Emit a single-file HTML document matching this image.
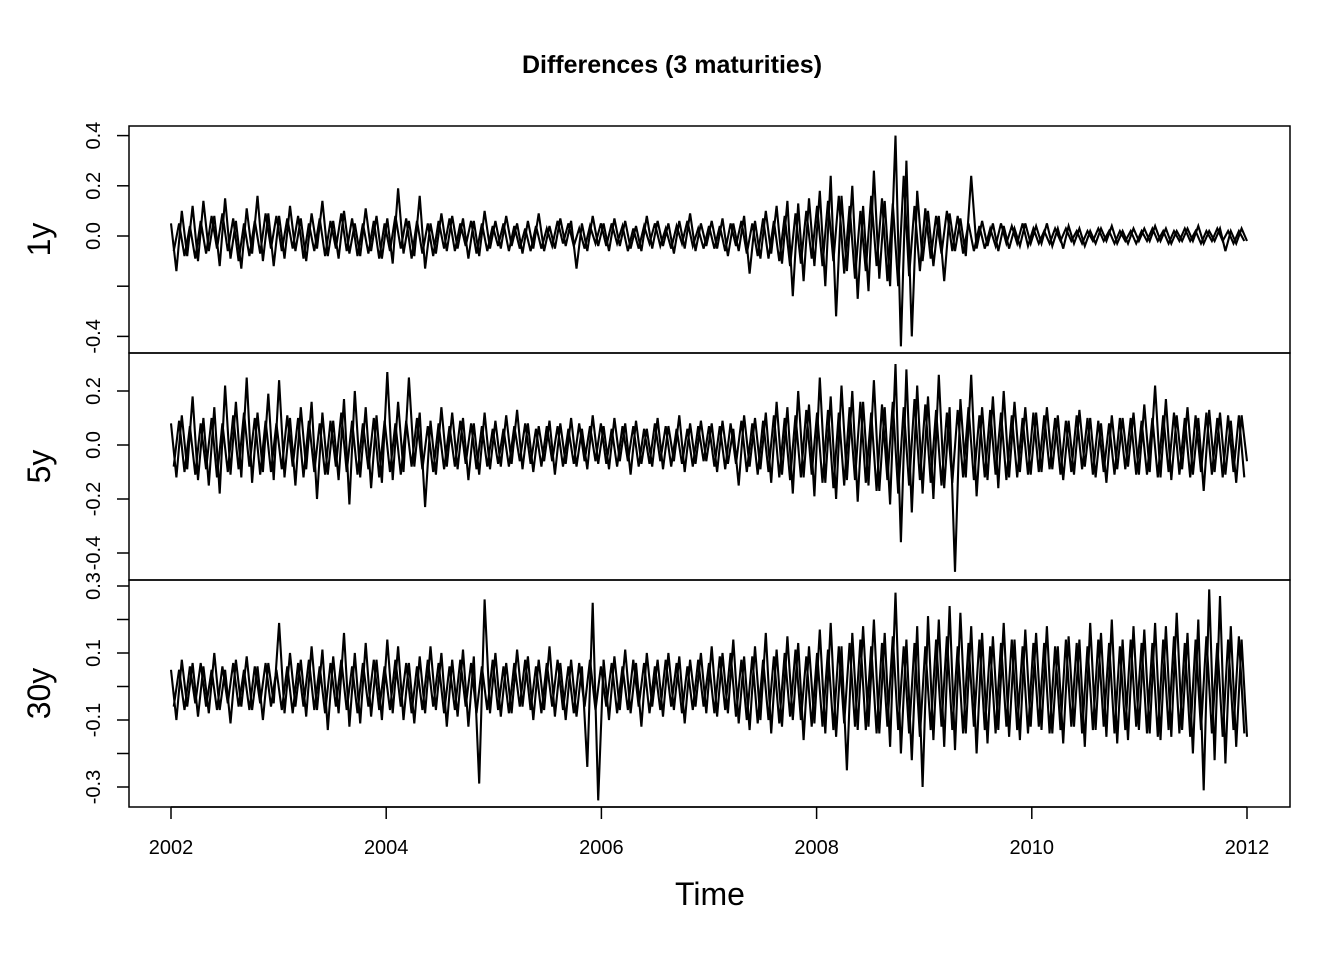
<!DOCTYPE html>
<html><head><meta charset="utf-8"><style>
html,body{margin:0;padding:0;background:#fff;}
svg{display:block;font-family:"Liberation Sans",Arial,sans-serif;}
</style></head><body>
<svg id="chart" width="1344" height="960" viewBox="0 0 1344 960" xmlns="http://www.w3.org/2000/svg">
<text x="672" y="73" text-anchor="middle" font-size="25" font-weight="bold">Differences (3 maturities)</text>
<text x="710" y="905" text-anchor="middle" font-size="32">Time</text>
</svg>
<script>
// values in hundredths, ~20 per year, 2002..2012; core arrays are a half-step offset overlay
const startYear = 2002, endYear = 2012;
const series1y = [5,-14,10,-8,12,-10,14,-6,8,-12,15,-9,6,-13,11,-7,16,-10,9,-12,
8,-9,12,-6,7,-10,9,-5,14,-8,6,-9,10,-7,5,-8,11,-6,8,-9,
7,-11,19,-7,6,-8,16,-13,5,-7,9,-6,8,-5,7,-9,6,-8,10,-5,
6,-5,8,-4,5,-7,6,-5,9,-6,4,-5,7,-4,6,-13,5,-6,8,-4,
5,-6,7,-4,6,-5,4,-6,8,-5,6,-4,5,-7,6,-5,9,-6,5,-4,
6,-5,7,-8,5,-6,8,-15,6,-9,10,-7,12,-11,14,-24,13,-18,15,-12,
18,-20,24,-32,16,-14,20,-25,12,-22,26,-17,14,-20,40,-44,30,-40,18,-10,
10,-12,8,-18,9,-6,7,-8,24,-5,6,-4,5,-6,4,-5,3,-4,5,-3,
4,-3,5,-4,3,-5,4,-3,3,-4,2,-3,3,-2,4,-3,2,-3,3,-2,
3,-2,4,-2,3,-3,2,-2,3,-2,4,-3,2,-2,3,-6,2,-3,3,-2];
const core1y = [-6,5,-8,4,-9,6,-7,8,-5,9,-6,7,-10,5,-8,6,-7,9,-5,8,
-6,7,-5,8,-9,5,-6,7,-8,6,-5,9,-6,7,-8,5,-7,6,-9,5,
-6,8,-5,7,-9,6,-7,5,-8,6,-5,7,-6,5,-4,6,-7,5,-6,4,
-4,5,-6,4,-5,3,-6,4,-5,3,-4,6,-3,5,-4,3,-5,4,-3,5,
-4,5,-3,4,-6,3,-5,4,-3,5,-4,3,-5,4,-3,6,-4,3,-5,4,
-5,4,-6,5,-4,6,-7,5,-8,7,-9,6,-10,8,-12,9,-11,10,-9,12,
-12,14,-10,16,-15,12,-17,10,-14,16,-12,15,-18,13,-20,24,-16,12,-14,11,
-9,8,-7,10,-6,8,-7,5,-6,4,-5,3,-4,5,-3,4,-3,5,-4,3,
-3,2,-3,3,-2,3,-2,2,-3,2,-2,3,-2,2,-3,2,-2,2,-3,2,
-2,3,-2,2,-3,2,-2,3,-2,2,-3,2,-2,3,-2,2,-3,2,-2,3];
const series5y = [8,-12,11,-9,18,-13,10,-15,14,-18,22,-11,16,-12,25,-14,12,-10,19,-13,
24,-12,10,-15,14,-9,16,-20,12,-11,9,-13,17,-22,20,-12,14,-16,11,-14,
27,-13,16,-10,25,-8,12,-23,9,-11,14,-8,12,-9,10,-13,8,-11,12,-9,
9,-8,11,-7,13,-9,8,-10,7,-6,9,-11,8,-7,10,-8,6,-9,11,-7,
7,-9,10,-6,8,-11,9,-7,6,-8,10,-9,7,-6,11,-10,8,-7,9,-6,
8,-10,9,-7,6,-15,11,-8,10,-9,12,-14,16,-11,14,-18,20,-12,15,-19,
25,-14,18,-20,22,-13,20,-21,16,-15,24,-17,14,-22,30,-36,28,-25,22,-18,
18,-20,26,-16,14,-47,17,-12,26,-19,14,-13,18,-16,20,-12,16,-10,14,-11,
12,-10,14,-9,11,-13,9,-11,13,-8,10,-12,8,-14,11,-9,10,-8,12,-11,
15,-10,22,-12,17,-13,11,-9,14,-11,10,-17,13,-10,12,-11,9,-14,11,-6];
const core5y = [-8,9,-10,7,-11,8,-9,10,-12,8,-10,11,-9,12,-8,10,-11,9,-10,8,
-9,11,-8,10,-12,9,-10,8,-11,9,-8,12,-10,9,-11,8,-9,10,-12,9,
-10,8,-11,9,-8,10,-9,7,-10,8,-9,7,-8,9,-7,8,-9,7,-8,6,
-7,6,-8,7,-6,8,-7,6,-8,7,-6,7,-8,6,-7,8,-6,7,-6,8,
-7,6,-8,7,-6,7,-8,6,-7,8,-6,7,-8,6,-7,6,-8,7,-6,7,
-8,7,-9,8,-7,9,-10,8,-11,9,-10,11,-12,10,-13,11,-12,13,-11,12,
-14,13,-16,12,-15,14,-13,16,-14,12,-17,15,-13,16,-18,14,-15,17,-13,15,
-14,13,-15,12,-14,13,-12,14,-13,11,-12,13,-11,12,-13,11,-12,10,-11,12,
-10,11,-9,10,-11,9,-10,11,-9,10,-11,9,-10,8,-11,10,-9,10,-11,9,
-11,10,-12,11,-10,12,-11,10,-12,11,-10,12,-11,10,-12,11,-10,11,-12,10];
const series30y = [5,-10,8,-6,7,-9,6,-8,10,-7,5,-11,8,-6,9,-7,6,-10,7,-5,
19,-8,10,-6,8,-9,12,-7,11,-13,9,-8,16,-12,10,-11,13,-9,8,-10,
14,-8,12,-10,7,-11,9,-8,12,-7,10,-12,8,-9,11,-12,9,-29,26,-8,
10,-9,7,-8,11,-6,9,-10,8,-7,12,-9,7,-10,8,-9,6,-24,25,-34,
8,-10,9,-7,11,-8,7,-12,10,-6,8,-9,10,-7,9,-11,8,-6,10,-8,
12,-9,10,-8,14,-11,9,-13,12,-10,16,-14,11,-12,15,-10,13,-16,12,-11,
17,-14,19,-15,12,-25,16,-13,18,-12,20,-14,16,-18,28,-20,14,-22,18,-30,
21,-16,20,-18,24,-19,22,-14,18,-20,16,-17,15,-13,19,-15,14,-16,17,-12,
16,-13,18,-14,12,-17,15,-12,14,-18,19,-13,16,-15,20,-17,14,-16,18,-13,
17,-14,19,-16,18,-15,22,-13,16,-20,20,-31,29,-22,27,-23,18,-18,14,-15];
const core30y = [-6,5,-7,6,-5,7,-6,5,-7,6,-5,7,-6,5,-7,6,-5,7,-6,5,
-7,6,-8,7,-6,8,-7,6,-8,7,-6,8,-7,6,-8,7,-6,8,-7,6,
-7,8,-6,7,-8,6,-7,8,-6,7,-8,6,-7,8,-6,7,-8,6,-7,8,
-7,6,-8,7,-6,8,-7,6,-8,7,-6,8,-7,6,-8,7,-6,8,-7,6,
-6,7,-8,6,-7,8,-6,7,-8,6,-7,8,-6,7,-8,6,-7,8,-6,7,
-8,9,-7,10,-9,8,-10,9,-11,8,-10,9,-11,10,-9,11,-10,9,-12,10,
-12,11,-13,12,-11,13,-12,14,-13,12,-14,13,-12,15,-13,12,-14,13,-15,12,
-13,14,-12,15,-13,12,-14,13,-12,14,-13,12,-14,13,-12,14,-13,12,-14,13,
-12,13,-14,12,-13,14,-12,13,-14,12,-13,14,-12,13,-14,12,-13,14,-12,13,
-14,13,-15,14,-13,15,-14,13,-15,14,-13,15,-14,13,-15,14,-13,15,-14,13];
const xTicks = [2002,2004,2006,2008,2010,2012];
const ticks1y = [-0.4,-0.2,0.0,0.2,0.4];
const labels1y = ["-0.4","","0.0","0.2","0.4"];
const ticks5y = [-0.4,-0.2,0.0,0.2];
const labels5y = ["-0.4","-0.2","0.0","0.2"];
const ticks30y = [-0.3,-0.2,-0.1,0.0,0.1,0.2,0.3];
const labels30y = ["-0.3","","-0.1","","0.1","","0.3"];

const NS = "http://www.w3.org/2000/svg";
const svg = document.getElementById('chart');
const L = 129, R = 1290;
const xScale = y => 171 + (y - 2002) * (1247 - 171) / 10;
function mk(tag, attrs){ const e = document.createElementNS(NS, tag); for (const k in attrs) e.setAttribute(k, attrs[k]); svg.appendChild(e); return e; }

const panels = [
  {name:'1y', top:126, bot:353, zero:236, ppu:251, data:series1y, core:core1y, ticks:ticks1y, labels:labels1y},
  {name:'5y', top:353, bot:580, zero:445, ppu:270, data:series5y, core:core5y, ticks:ticks5y, labels:labels5y},
  {name:'30y', top:580, bot:807, zero:686.5, ppu:335, data:series30y, core:core30y, ticks:ticks30y, labels:labels30y}
];
panels.forEach(p => {
  const yS = v => p.zero - v * p.ppu;
  const box = mk('rect', {x:L, y:p.top, width:R-L, height:p.bot-p.top, fill:'none', stroke:'#000', 'stroke-width':1.5});
  
  
  p.ticks.forEach((t, i) => {
    const ty = yS(t);
    const tk = mk('line', {x1:L-12, x2:L, y1:ty, y2:ty, stroke:'#000', 'stroke-width':1.5});
    
    
    if (p.labels[i]) {
      const tx = mk('text', {x:0, y:0, 'font-size':20, 'text-anchor':'middle', transform:`translate(100,${ty}) rotate(-90)`});
      tx.textContent = p.labels[i];
      
      
    }
  });
  const lab = mk('text', {x:0, y:0, 'font-size':32, 'text-anchor':'middle', transform:`translate(50,${(p.top+p.bot)/2}) rotate(-90)`});
  lab.textContent = p.name;
  
  
  const n = p.data.length;
  const step = (endYear - startYear) / (n - 1);
  const pts = p.data.map((v, i) => xScale(startYear + i * step).toFixed(1) + ',' + yS(v / 100).toFixed(1));
  const cpts = p.core.slice(0, n - 1).map((v, i) => xScale(startYear + (i + 0.5) * step).toFixed(1) + ',' + yS(v / 100).toFixed(1));
  const line2 = mk('polyline', {points:cpts.join(' '), fill:'none', stroke:'#000', 'stroke-width':2.1});
  
  
  const line = mk('polyline', {points:pts.join(' '), fill:'none', stroke:'#000', 'stroke-width':2.1});
  
  
});
const axl = mk('line', {x1:xScale(2002), x2:xScale(2012), y1:807, y2:807, stroke:'#000', 'stroke-width':1.5});


xTicks.forEach(t => {
  const x = xScale(t);
  const tk = mk('line', {x1:x, x2:x, y1:807, y2:819, stroke:'#000', 'stroke-width':1.5});
  
  
  const tx = mk('text', {x:x, y:854, 'font-size':20, 'text-anchor':'middle'});
  tx.textContent = t;
  
  
});
</script>
</body></html>
